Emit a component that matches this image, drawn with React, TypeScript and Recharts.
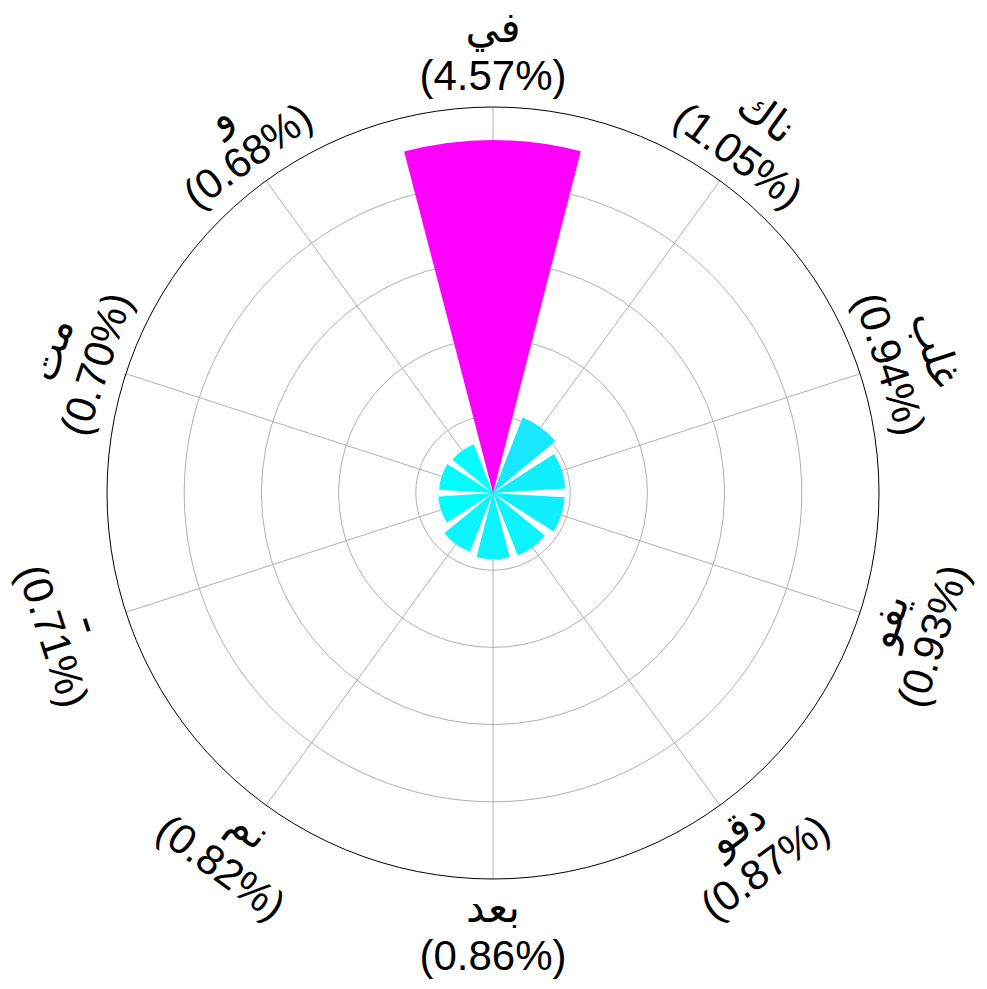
import React from "react";
import {
  RadialBarChart,
  RadialBar,
  PolarGrid,
  PolarAngleAxis,
  PolarRadiusAxis,
  Cell,
} from "recharts";

// word tokens as drawn (left to right), clockwise from the top
const words = ["يف", "كان", "بلغ", "وفي", "وقد", "دعب", "من", "ـ", "تم", "و"];
// share of all tokens, in percent
const shares = [4.57, 1.05, 0.94, 0.93, 0.87, 0.86, 0.82, 0.71, 0.7, 0.68];
const ringTicks = [0, 1, 2, 3, 4];
const radiusMax = 4.8;

const W = 987;
const H = 989;
const CX = 493;
const CY = 493;
const OUTER = 386;
const STEP = 360 / words.length;

const data = words.map((w, i) => ({ name: w, value: shares[i] }));

// spoke angles (recharts degrees, counter-clockwise from 3 o'clock)
const spokeAngles = words.map((_, i) => 90 - STEP * i);

// "cool" colormap (cyan -> magenta), normalised over the values
const lo = Math.min(...shares);
const hi = Math.max(...shares);
const coolColor = (v: number) => {
  const t = (v - lo) / (hi - lo);
  return `rgb(${Math.round(255 * t)},${Math.round(255 * (1 - t))},255)`;
};

const WordTick = (props: any) => {
  const { index } = props;
  const d = data[index];
  const ang = (-spokeAngles[index] * Math.PI) / 180;
  const r = OUTER + 54;
  const px = CX + r * Math.cos(ang);
  const py = CY + r * Math.sin(ang);
  // clockwise degrees from 12 o'clock, kept readable
  let rot = STEP * index;
  while (rot > 180) rot -= 360;
  if (rot > 90) rot -= 180;
  if (rot < -90) rot += 180;
  return (
    <text
      transform={`translate(${px},${py}) rotate(${rot})`}
      textAnchor="middle"
      fontSize={42}
      fill="#000"
      fontFamily="'Liberation Sans', Arial, sans-serif"
    >
      <tspan
        x={0}
        y={-11}
        fontFamily="'DejaVu Sans', sans-serif"
        style={{ direction: "ltr", unicodeBidi: "bidi-override" }}
      >
        {d.name}
      </tspan>
      <tspan x={0} y={37}>{`(${d.value.toFixed(2)}%)`}</tspan>
    </text>
  );
};

export default function App() {
  return (
    <div style={{ width: W, height: H, background: "#fff" }}>
      <style>{"body{margin:0}"}</style>
      <RadialBarChart
        width={W}
        height={H}
        data={data}
        cx={CX}
        cy={CY}
        innerRadius={0}
        outerRadius={OUTER}
        startAngle={90 - STEP / 2}
        endAngle={90 - STEP / 2 - 360}
        layout="centric"
        margin={{ top: 0, right: 0, bottom: 0, left: 0 }}
      >
        <PolarGrid
          gridType="circle"
          polarAngles={spokeAngles}
          stroke="#b0b0b0"
          strokeWidth={1}
        />
        <PolarAngleAxis
          type="category"
          dataKey="name"
          tickLine={false}
          axisLine={{ stroke: "#000", strokeWidth: 1 }}
          axisLineType="circle"
          tick={<WordTick />}
        />
        <PolarRadiusAxis
          type="number"
          dataKey="value"
          scale="linear"
          domain={[0, radiusMax]}
          allowDataOverflow
          tickCount={25}
          ticks={ringTicks}
          tick={false}
          axisLine={false}
        />
        <RadialBar dataKey="value" isAnimationActive={false}>
          {data.map((d, i) => (
            <Cell key={`c-${i}`} fill={coolColor(d.value)} />
          ))}
        </RadialBar>
      </RadialBarChart>
    </div>
  );
}
